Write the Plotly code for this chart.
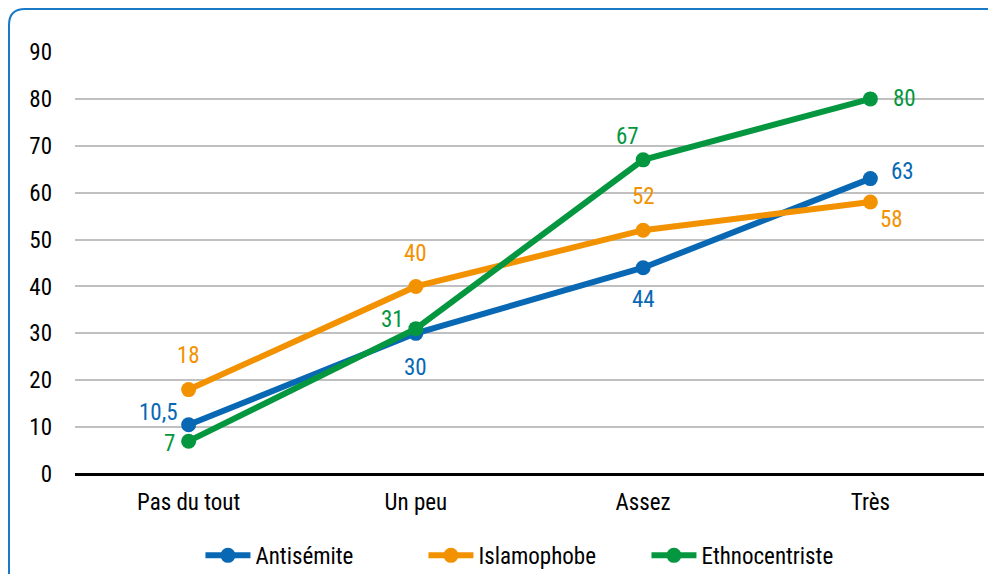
import plotly.graph_objects as go

# Données
categories = ["Pas du tout", "Un peu", "Assez", "Très"]
series_noms = ["Antisémite", "Islamophobe", "Ethnocentriste"]
antisemite = [10.5, 30, 44, 63]
islamophobe = [18, 40, 52, 58]
ethnocentriste = [7, 31, 67, 80]
y_ticks = [0, 10, 20, 30, 40, 50, 60, 70, 80, 90]

couleurs = ["#0868b4", "#f39200", "#05973f"]
# décalage (dx, dy en pixels) des étiquettes par rapport aux points
decalages = [
    [(-30, 12), (0, -34), (0, -32), (32, 7)],
    [(0, 34), (0, 33), (0, 34), (21, -17)],
    [(-19, -2), (-23, 9), (-16, 23), (34, 0)],
]

police = "Liberation Sans Narrow, Roboto Condensed, Arial Narrow, sans-serif"

# la page a une marge de 8 px : la figure est un peu plus petite que la fenêtre
L, H = 980, 566
ml, mr, mt, mb = 67, 4, 44, 100
pw, ph = L - ml - mr, H - mt - mb

fig = go.Figure()
annotations = []
for nom, valeurs, couleur, dec in zip(series_noms, [antisemite, islamophobe, ethnocentriste], couleurs, decalages):
    fig.add_trace(go.Scatter(
        x=categories, y=valeurs, name=nom,
        mode="lines+markers",
        line=dict(color=couleur, width=6),
        marker=dict(color=couleur, size=15),
    ))
    for cat, v, (dx, dy) in zip(categories, valeurs, dec):
        annotations.append(dict(
            x=cat, y=v, text=f"{v:g}".replace(".", ","),
            showarrow=False, xshift=dx, yshift=dy,
            font=dict(color=couleur, size=23, family=police),
        ))

# Cadre arrondi (haut et gauche visibles)
x0, x1 = (1 - ml) / pw, (L + 5 - ml) / pw
y0, y1 = -(mb + 10) / ph, (mt - 1) / ph + 1
rx, ry = 16 / pw, 16 / ph
chemin = (f"M {x0},{y0} L {x0},{y1 - ry} Q {x0},{y1} {x0 + rx},{y1} "
          f"L {x1},{y1}")

fig.update_layout(
    width=L, height=H,
    margin=dict(l=ml, r=mr, t=mt, b=mb, autoexpand=False),
    plot_bgcolor="white",
    paper_bgcolor="white",
    font=dict(family=police, size=23, color="black"),
    showlegend=True,
    legend=dict(orientation="h", x=0.506, xanchor="center", y=-0.142, yanchor="top",
                font=dict(size=23), itemwidth=45, entrywidth=163),
    annotations=annotations,
    shapes=[dict(type="path", path=chemin, xref="paper", yref="paper",
                 line=dict(color="#1a7ac8", width=2))],
    xaxis=dict(showgrid=False, ticks="", ticklabelstandoff=12, range=[-0.5, 3.5],
               automargin=False),
    yaxis=dict(range=[0, 90], tickvals=y_ticks, gridcolor="#c0c0c0", gridwidth=2,
               zeroline=True, zerolinecolor="black", zerolinewidth=2.5,
               ticklabelstandoff=22, showline=False, automargin=False),
)

fig.write_html("out.html")
